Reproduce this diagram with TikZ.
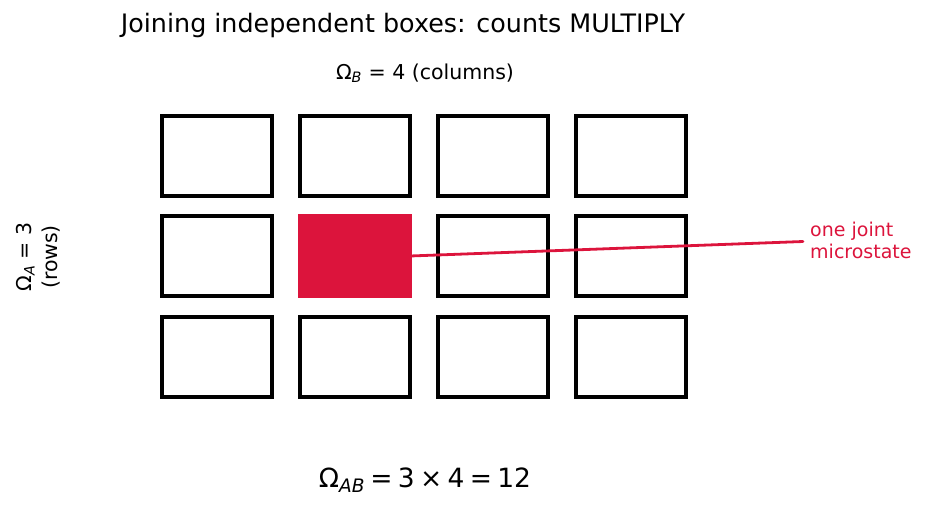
\documentclass[tikz,border=0pt]{standalone}
\usepackage{fontspec}
\setmainfont{DejaVu Sans}
\definecolor{crim}{RGB}{220,20,60}
\begin{document}
\begin{tikzpicture}[x=1pt,y=-1pt,
  cell/.style={draw=black,line width=3.4pt,minimum width=110pt,minimum height=80pt,inner sep=0pt,outer sep=0pt,anchor=north west},
  hot/.style={cell,fill=crim,draw=crim},
  lbl/.style={inner sep=0pt,font=\fontsize{20.5}{26}\selectfont}]
\useasboundingbox (0,0) rectangle (928,512);
\foreach \c/\x in {1/162,2/300,3/438,4/576}{
  \foreach \r/\y in {1/116,2/216,3/317}{
    \node[cell] (b\r\c) at (\x,\y) {};
  }
}
\node[hot] (hot) at (300,216) {};
\coordinate (lend) at (803,241.5);
\draw[crim,line width=2.8pt,line cap=round] (hot.east) -- (lend);
\node[anchor=west,align=left,text=crim,inner sep=0pt,font=\fontsize{19}{22}\selectfont] (note) at (810,240) {one joint\\microstate};
\node[inner sep=0pt,font=\fontsize{25.4}{28}\selectfont] (title) at (403,25) {Joining independent boxes: counts MULTIPLY};
\node[lbl] (omb) at (425,73) {Ω\textsubscript{\itshape B} = 4 (columns)};
\node[lbl,rotate=90,align=center] (oma) at (38,257) {Ω\textsubscript{\itshape A} = 3\\(rows)};
\node[inner sep=0pt,font=\fontsize{26.5}{30}\selectfont] (omab) at (425,480) {Ω\textsubscript{\itshape AB}\hspace{0.2em}=\hspace{0.2em}3\hspace{0.2em}×\hspace{0.2em}4\hspace{0.2em}=\hspace{0.2em}12};
\end{tikzpicture}
\end{document}
